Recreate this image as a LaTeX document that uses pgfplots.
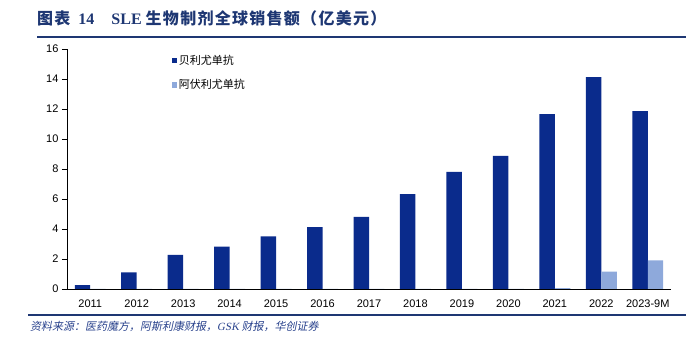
\documentclass[border=0pt]{standalone}
\usepackage{fontspec}
\setmainfont{Liberation Sans}
\newfontfamily\tnr{Liberation Serif}
\newfontfamily\cjk{Noto Sans CJK SC}
\newfontfamily\cjkls{Noto Sans CJK SC}[LetterSpace=8]
\newfontfamily\cjkit{Noto Sans CJK SC}[FakeSlant=0.2]
\newfontfamily\tnrit{Liberation Serif}[FakeSlant=0.2]
\usepackage{pgfplots}
\pgfplotsset{compat=1.18}
\definecolor{navy}{RGB}{10,43,140}
\definecolor{lightb}{RGB}{142,169,219}
\definecolor{titleblue}{RGB}{30,55,115}
\definecolor{footblue}{RGB}{40,65,140}
\pgfplotstableread{
x a b
0 0.25 0
1 1.10 0
2 2.27 0
3 2.82 0
4 3.50 0
5 4.13 0
6 4.80 0
7 6.33 0
8 7.80 0
9 8.87 0
10 11.65 0.05
11 14.13 1.15
12 11.85 1.90
}\datatable
\begin{document}
\begin{tikzpicture}
\useasboundingbox (0pt,0pt) rectangle (686pt,342pt);
% title
\node[anchor=west,inner sep=0pt,text=titleblue] at (37pt,323.5pt) {\fontsize{16}{19}\selectfont{\cjkls\bfseries 图表}\hspace{8pt}{\tnr\bfseries 14}\hspace{17pt}{\tnr\bfseries SLE}\hspace{4pt}{\cjkls\bfseries 生物制剂全球销售额（亿美元）}};
\draw[titleblue,line width=1.8pt] (37pt,305pt) -- (686pt,305pt);
% footer
\draw[titleblue,line width=1.5pt] (28pt,27pt) -- (686pt,27pt);
\node[anchor=west,inner sep=0pt,text=footblue] at (30pt,15.5pt) {\fontsize{11}{14}\selectfont\cjkit 资料来源：医药魔方，阿斯利康财报，{\tnrit GSK} 财报，华创证券};
\begin{axis}[
  at={(67pt,53pt)}, anchor=south west,
  width=604pt, height=240pt, scale only axis,
  ybar=0pt, bar width=0.333,
  xmin=-0.5, xmax=12.5, ymin=0, ymax=16,
  axis x line=bottom, axis y line=left,
  axis line style={-,black,line width=0.6pt},
  xtick={0,...,12},
  xticklabels={2011,2012,2013,2014,2015,2016,2017,2018,2019,2020,2021,2022,2023-9M},
  x tick style={draw=none},
  extra x ticks={-0.5,0.5,...,12.5},
  extra x tick labels={},
  extra x tick style={tick style={draw=black,line width=0.6pt}, major tick length=5pt, tick align=outside},
  xticklabel style={yshift=-2pt},
  ytick={0,2,...,16},
  y tick style={black,line width=0.6pt},
  major tick length=5pt, tick align=outside,
  tick label style={font=\fontsize{11}{13}\selectfont},
  /pgf/number format/assume math mode=true,
  legend style={at={(rel axis cs:0.173,0.985)}, anchor=north west, draw=none, fill=none,
    font=\fontsize{11}{13}\selectfont\cjk, row sep=10pt, inner sep=0pt},
  legend cell align=left,
  legend image code/.code={\fill[#1] (0pt,-2.6pt) rectangle (5.2pt,2.6pt);},
]
\addplot[fill=navy,draw=none] table[x=x,y=a]{\datatable};
\addplot[fill=lightb,draw=none] table[x=x,y=b]{\datatable};
\legend{贝利尤单抗,阿伏利尤单抗}
\end{axis}
\end{tikzpicture}
\end{document}
